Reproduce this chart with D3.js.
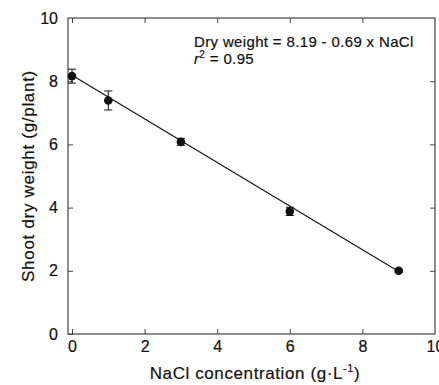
<html>
<script src='https://d3js.org/d3.v7.min.js'></script>
<style>
body {margin: 0; background: white;}
text {font-family: "Liberation Sans", Arial, sans-serif; fill: #111; stroke: #111; stroke-width: 0.2;}
</style>
<body>
<svg width=439 height=385></svg>
<script>
var nacl = [0, 1, 3, 6, 9];
var dryWeight = [8.16, 7.39, 6.08, 3.88, 2.0];
var errBar = [0.22, 0.3, 0.11, 0.13, 0.05];
var xTicks = [0, 2, 4, 6, 8, 10];
var yTicks = [0, 2, 4, 6, 8, 10];
var fitIntercept = 8.19, fitSlope = -0.69;

var svg = d3.select("svg");
var plotL = 68, plotR = 435, plotT = 18, plotB = 334;

var x = d3.scaleLinear().domain([-0.11, 10]).range([plotL, plotR]);
var y = d3.scaleLinear().domain([0, 10]).range([plotB, plotT]);

// frame
svg.append("rect")
    .attr("x", plotL).attr("y", plotT)
    .attr("width", plotR - plotL).attr("height", plotB - plotT)
    .attr("fill", "none").attr("stroke", "#444").attr("stroke-width", 1.2);

var tl = 5;
var bx = svg.append("g").attr("transform", "translate(0," + plotB + ")")
    .call(d3.axisBottom(x).tickValues(xTicks).tickSize(-tl).tickPadding(7));
var tx = svg.append("g").attr("transform", "translate(0," + plotT + ")")
    .call(d3.axisTop(x).tickValues(xTicks).tickSize(-tl).tickFormat(""));
var ly = svg.append("g").attr("transform", "translate(" + plotL + ",0)")
    .call(d3.axisLeft(y).tickValues(yTicks).tickSize(-tl).tickPadding(10));
var ry = svg.append("g").attr("transform", "translate(" + plotR + ",0)")
    .call(d3.axisRight(y).tickValues(yTicks).tickSize(-tl).tickFormat(""));
[bx, tx, ly, ry].forEach(function(g) {
    g.select(".domain").remove();
    g.selectAll("line").attr("stroke", "#444");
    g.selectAll("text").attr("fill", "#111")
        .style("font-family", "Liberation Sans, Arial, sans-serif")
        .style("font-size", "16px");
});
// hide ticks sitting on the frame corners
tx.selectAll(".tick").filter(function(d) { return d == 10; }).remove();
ry.selectAll(".tick").filter(function(d) { return d == 0 || d == 10; }).remove();
ly.selectAll(".tick line").filter(function(d) { return d == 10; }).remove();
bx.selectAll(".tick line").filter(function(d) { return d == 10; }).remove();

// regression line
svg.append("line")
    .attr("x1", x(0)).attr("y1", y(fitIntercept))
    .attr("x2", x(9)).attr("y2", y(fitIntercept + fitSlope * 9))
    .attr("stroke", "#111").attr("stroke-width", 1.1);

// error bars
var eb = svg.selectAll(".eb").data(nacl).enter().append("g").attr("class", "eb");
eb.append("line")
    .attr("x1", function(d) { return x(d); }).attr("x2", function(d) { return x(d); })
    .attr("y1", function(d, i) { return y(dryWeight[i] - errBar[i]); })
    .attr("y2", function(d, i) { return y(dryWeight[i] + errBar[i]); })
    .attr("stroke", "#111");
[-1, 1].forEach(function(s) {
    eb.append("line")
        .attr("x1", function(d) { return x(d) - 4; }).attr("x2", function(d) { return x(d) + 4; })
        .attr("y1", function(d, i) { return y(dryWeight[i] + s * errBar[i]); })
        .attr("y2", function(d, i) { return y(dryWeight[i] + s * errBar[i]); })
        .attr("stroke", "#111");
});

// points
svg.selectAll(".pt").data(nacl).enter().append("circle")
    .attr("class", "pt")
    .attr("cx", function(d) { return x(d); })
    .attr("cy", function(d, i) { return y(dryWeight[i]); })
    .attr("r", 4.3).attr("fill", "#111");

// equation
svg.append("text").attr("x", 194).attr("y", 47)
    .style("font-size", "15px").style("letter-spacing", "0.35px")
    .text("Dry weight = 8.19 -  0.69 x NaCl");
var r2 = svg.append("text").attr("x", 194).attr("y", 64)
    .style("font-size", "15px").style("letter-spacing", "0.35px");
r2.append("tspan").style("font-style", "italic").text("r");
r2.append("tspan").attr("dy", -6).style("font-size", "10px").text("2");
r2.append("tspan").attr("dy", 6).text(" = 0.95");

// axis titles
var xt = svg.append("text").attr("x", 255).attr("y", 379).attr("text-anchor", "middle")
    .style("font-size", "17px").style("letter-spacing", "0.6px");
xt.append("tspan").text("NaCl concentration (g\u00b7L");
xt.append("tspan").attr("dy", -7).style("font-size", "11px").text("-1");
xt.append("tspan").attr("dy", 7).text(")");

svg.append("text")
    .attr("transform", "translate(34,176) rotate(-90)")
    .attr("text-anchor", "middle")
    .style("font-size", "17px").style("letter-spacing", "0.7px")
    .text("Shoot dry weight (g/plant)");
</script>
</body>
</html>
